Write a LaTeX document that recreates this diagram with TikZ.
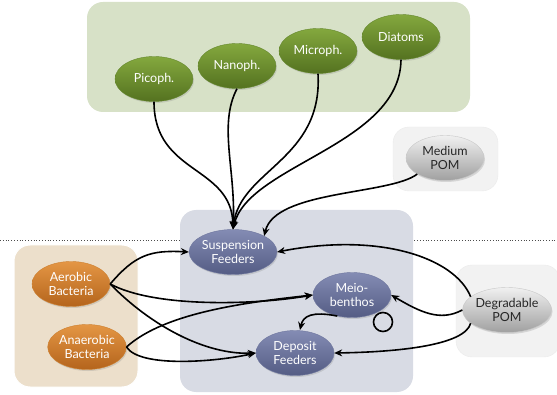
\documentclass[tikz,border=0pt]{standalone}
\usepackage{fontspec}
\setmainfont{Lato}
\usetikzlibrary{shapes.geometric,arrows.meta,shadows}
\definecolor{greenbox}{RGB}{215,225,199}
\definecolor{bluebox}{RGB}{216,219,228}
\definecolor{tanbox}{RGB}{236,223,203}
\definecolor{graybox}{RGB}{242,242,242}
\tikzset{
  ell/.style={ellipse, minimum width=78pt, minimum height=45pt, inner sep=0pt, align=center,
     font=\fontsize{12.5}{14}\selectfont, drop shadow={opacity=0.25, shadow xshift=1pt, shadow yshift=-1.5pt}},
  greenell/.style={ell, text=white, top color={rgb,255:red,132;green,168;blue,62}, bottom color={rgb,255:red,84;green,114;blue,32}, draw={rgb,255:red,100;green,135;blue,45}},
  blueell/.style={ell, text=white, top color={rgb,255:red,132;green,140;blue,180}, bottom color={rgb,255:red,84;green,92;blue,132}, draw={rgb,255:red,110;green,118;blue,158}},
  orangeell/.style={ell, text=white, top color={rgb,255:red,228;green,150;blue,68}, bottom color={rgb,255:red,180;green,100;blue,28}, draw={rgb,255:red,205;green,128;blue,48}},
  grayell/.style={ell, text=black!85, top color={rgb,255:red,240;green,240;blue,240}, bottom color={rgb,255:red,160;green,160;blue,160}, draw={rgb,255:red,200;green,200;blue,200}},
  flow/.style={line width=1.6pt, -{Stealth[length=8pt,width=7pt]}},
  groupbox/.style={rounded corners=16pt},
}
\begin{document}
\begin{tikzpicture}[x=1pt,y=-1pt]
\useasboundingbox (0,0) rectangle (557,395);
% dotted separator
\draw[dotted, line width=0.8pt, black!70] (0,240) -- (557,240);
% group boxes
\fill[greenbox, groupbox] (87,2) rectangle (470,112);
\filldraw[graybox, draw=black!8, groupbox] (393,127) rectangle (498,191);
\fill[bluebox, groupbox] (180,210) rectangle (413,392);
\filldraw[tanbox, draw=white, line width=1pt, groupbox] (14,245) rectangle (138,387);
\filldraw[graybox, draw=black!8, groupbox] (456,265) rectangle (560,357);
% nodes
\node[greenell] (pico) at (154,79) {Picoph.};
\node[greenell] (nano) at (237,66) {Nanoph.};
\node[greenell] (micro) at (318,51) {Microph.};
\node[greenell] (diat) at (401,37) {Diatoms};
\node[grayell] (mpom) at (445,158) {Medium\\POM};
\node[blueell] (susp) at (233,252) {Suspension\\Feeders};
\node[blueell] (meio) at (352,295) {Meio-\\benthos};
\node[blueell] (depo) at (295,353) {Deposit\\Feeders};
\node[orangeell] (aero) at (71,284) {Aerobic\\Bacteria};
\node[orangeell] (anae) at (87,347) {Anaerobic\\Bacteria};
\node[grayell] (dpom) at (507,310) {Degradable\\POM};
% connectors from plankton
\draw[flow] (pico.south) .. controls (154,175) and (232,165) .. (susp.north);
\draw[flow] (nano.south) .. controls (218,125) and (236,170) .. (susp.north);
\draw[flow] (micro.south) .. controls (323,160) and (240,170) .. (susp.north);
\draw[flow] (diat.south) .. controls (400,145) and (248,165) .. (susp.north);
\draw[flow] (mpom.south west) .. controls (390,195) and (275,190) .. (susp.north east);
% degradable POM
\draw[flow] (dpom.160) .. controls (455,258) and (380,232) .. (susp.east);
\draw[flow] (dpom.west) .. controls (440,322) and (420,312) .. (meio.east);
\draw[flow] (dpom.200) .. controls (465,345) and (400,352) .. (depo.east);
% bacteria
\draw[flow] (aero.east) .. controls (135,255) and (150,250) .. (susp.west);
\draw[flow] (aero.east) .. controls (155,308) and (255,305) .. (meio.west);
\draw[flow] (aero.east) .. controls (150,325) and (205,355) .. (depo.west);
\draw[flow] (anae.east) .. controls (165,312) and (250,302) .. (meio.west);
\draw[flow] (anae.east) .. controls (140,368) and (215,362) .. (depo.west);
% meiobenthos
\coordinate (mdtip) at (300,330);
\draw[flow] (meio.235) .. controls (312,311) and (303,316) .. (mdtip);
\coordinate (loopc) at (383,322);
\draw[line width=1.6pt] (loopc) circle[radius=9.5pt];
\end{tikzpicture}
\end{document}
